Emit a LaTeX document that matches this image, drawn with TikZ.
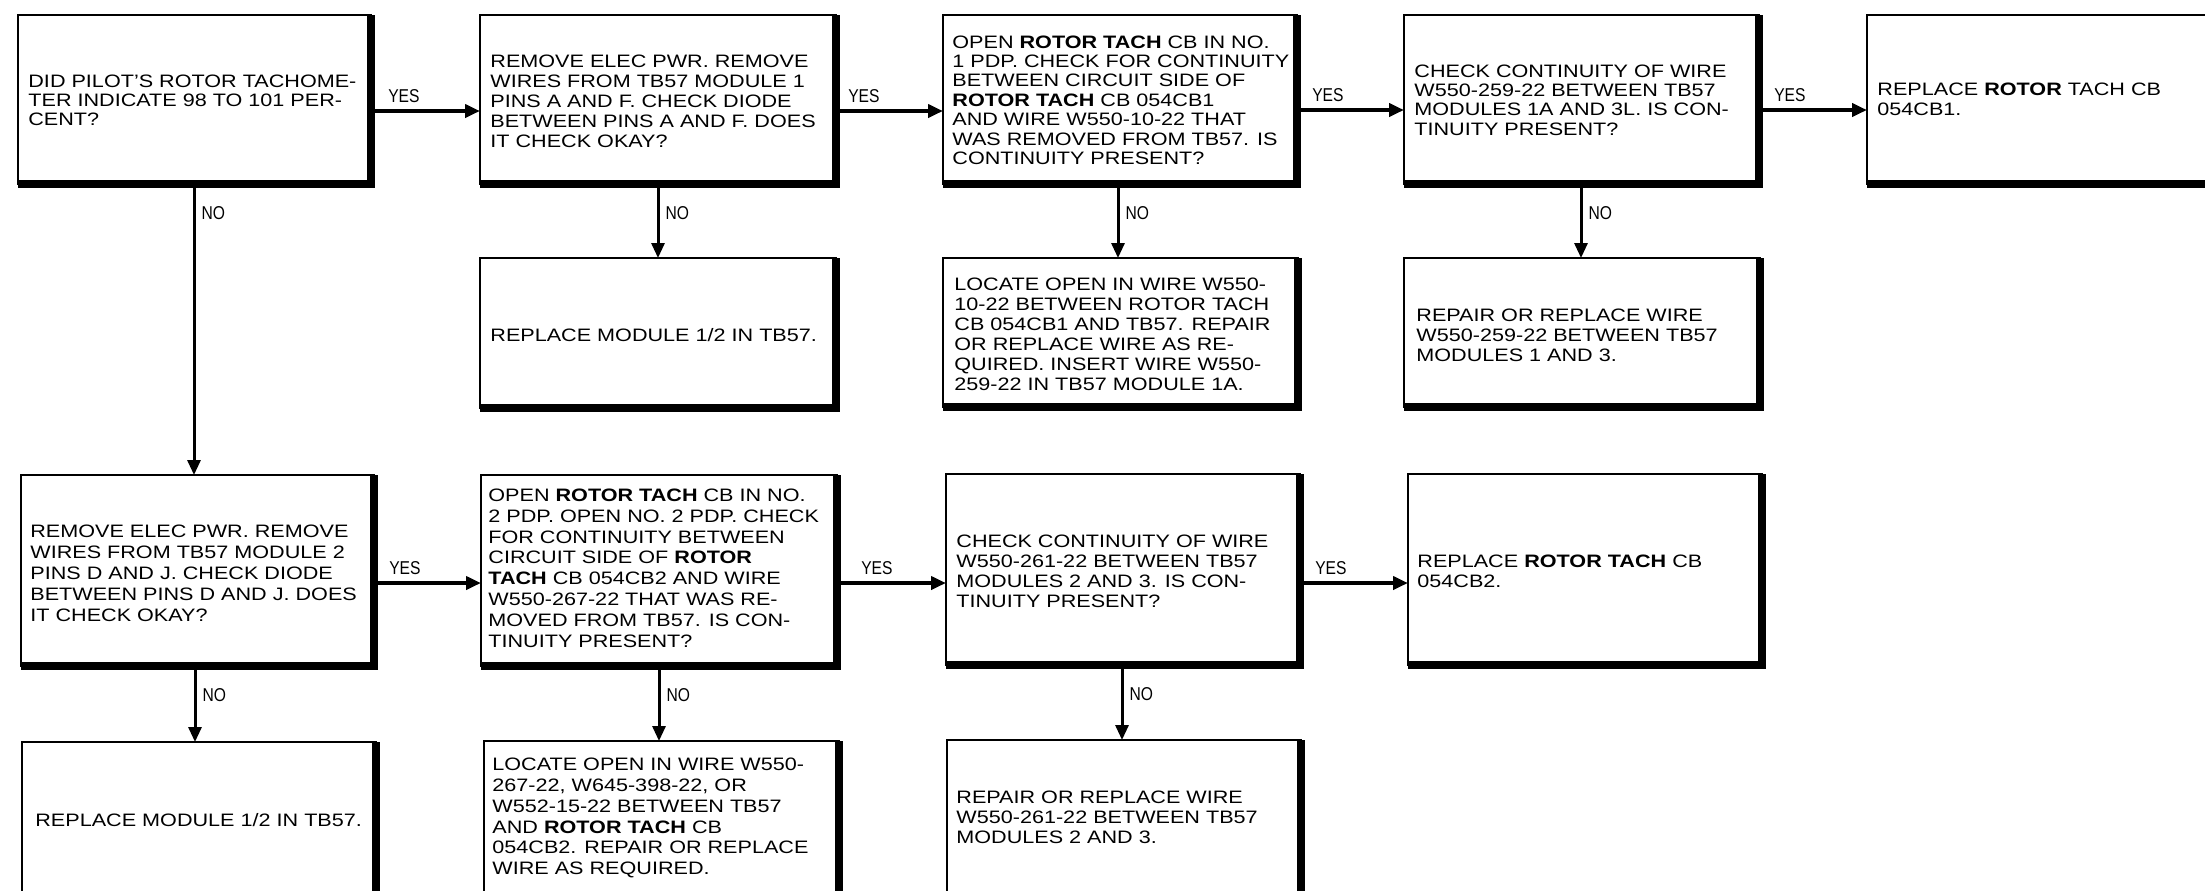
\documentclass[tikz,border=0pt]{standalone}
\usepackage{fontspec}
\setmainfont[FakeStretch=1.2]{Liberation Sans}
\newfontfamily\labfont[FakeStretch=0.84]{Liberation Sans}
\usetikzlibrary{arrows.meta}
\tikzset{
  box/.style={draw, line width=1.4pt, rectangle, inner sep=0pt, outer sep=0pt},
  shadeline/.style={line width=4pt, line cap=butt, line join=miter},
  txt/.style={anchor=west, align=left, inner sep=0pt, font=\fontsize{9}{10}\selectfont},
  yesarrow/.style={-{Triangle[length=7.5pt,width=6.5pt]}, line width=2.3pt},
  noarrow/.style={-{Triangle[length=7.5pt,width=6.5pt]}, line width=1.5pt},
  yeslab/.style={font=\labfont\fontsize{9.3}{11}\selectfont, inner sep=0pt, anchor=base west},
  nolab/.style={font=\labfont\fontsize{9.3}{11}\selectfont, inner sep=0pt, anchor=north west},
}
\newcommand\fcbox[5]{%
  \node[box, minimum width={(#4-#2)*0.5pt}, minimum height={(#5-#3)*0.5pt}] (#1) at ({(#2+#4)/2},{(#3+#5)/2}) {};
  \draw[shadeline] (#1.north east) -- (#1.south east) -- (#1.south west);
}
\begin{document}
\begin{tikzpicture}[x=0.5pt,y=-0.5pt]
\useasboundingbox (0,0) rectangle (2205,890);
\clip (0,0) rectangle (2205,890);
\fill[white] (0,0) rectangle (2205,890);

% row 1
\fcbox{b1}{18}{15}{371}{184}
\fcbox{b2}{480}{15}{836}{184}
\fcbox{b3}{943}{15}{1297}{184}
\fcbox{b4}{1404}{15}{1759}{184}
\fcbox{b5}{1867}{15}{2260}{184}
% row 2
\fcbox{r2}{480}{258}{836}{408}
\fcbox{r3}{943}{258}{1298}{407}
\fcbox{r4}{1404}{258}{1760}{407}
% row 3
\fcbox{c1}{21}{475}{374}{666}
\fcbox{c2}{481}{475}{837}{666}
\fcbox{c3}{946}{474}{1300}{665}
\fcbox{c4}{1408}{474}{1762}{665}
% row 4
\fcbox{d1}{22}{742}{376}{910}
\fcbox{d2}{484}{741}{839}{910}
\fcbox{d3}{947}{740}{1301}{910}

% texts
\node[txt, font=\fontsize{9}{9.4}\selectfont] (b1t) at (28,100) {DID PILOT'S ROTOR TACHOME-\\TER INDICATE 98 TO 101 PER-\\CENT?};
\node[txt] (b2t) at (490,101) {REMOVE ELEC PWR. REMOVE\\WIRES FROM TB57 MODULE 1\\PINS A AND F. CHECK DIODE\\BETWEEN PINS A AND F. DOES\\IT CHECK OKAY?};
\node[txt, font=\fontsize{9}{9.7}\selectfont] (b3t) at (952,100) {OPEN \textbf{ROTOR TACH} CB IN NO.\\1 PDP. CHECK FOR CONTINUITY\\BETWEEN CIRCUIT SIDE OF\\\textbf{ROTOR TACH} CB 054CB1\\AND WIRE W550-10-22 THAT\\WAS REMOVED FROM TB57. IS\\CONTINUITY PRESENT?};
\node[txt, font=\fontsize{9}{9.6}\selectfont] (b4t) at (1414,100) {CHECK CONTINUITY OF WIRE\\W550-259-22 BETWEEN TB57\\MODULES 1A AND 3L. IS CON-\\TINUITY PRESENT?};
\node[txt] (b5t) at (1877,99) {REPLACE \textbf{ROTOR} TACH CB\\054CB1.};
\node[txt] (r2t) at (490,335) {REPLACE MODULE 1/2 IN TB57.};
\node[txt] (r3t) at (954,334) {LOCATE OPEN IN WIRE W550-\\10-22 BETWEEN ROTOR TACH\\CB 054CB1 AND TB57. REPAIR\\OR REPLACE WIRE AS RE-\\QUIRED. INSERT WIRE W550-\\259-22 IN TB57 MODULE 1A.};
\node[txt] (r4t) at (1416,335) {REPAIR OR REPLACE WIRE\\W550-259-22 BETWEEN TB57\\MODULES 1 AND 3.};
\node[txt, font=\fontsize{9}{10.5}\selectfont] (c1t) at (30,573) {REMOVE ELEC PWR. REMOVE\\WIRES FROM TB57 MODULE 2\\PINS D AND J. CHECK DIODE\\BETWEEN PINS D AND J. DOES\\IT CHECK OKAY?};
\node[txt, font=\fontsize{9}{10.4}\selectfont] (c2t) at (488,568) {OPEN \textbf{ROTOR TACH} CB IN NO.\\2 PDP. OPEN NO. 2 PDP. CHECK\\FOR CONTINUITY BETWEEN\\CIRCUIT SIDE OF \textbf{ROTOR}\\\textbf{TACH} CB 054CB2 AND WIRE\\W550-267-22 THAT WAS RE-\\MOVED FROM TB57. IS CON-\\TINUITY PRESENT?};
\node[txt] (c3t) at (956,571) {CHECK CONTINUITY OF WIRE\\W550-261-22 BETWEEN TB57\\MODULES 2 AND 3. IS CON-\\TINUITY PRESENT?};
\node[txt] (c4t) at (1417,571) {REPLACE \textbf{ROTOR TACH} CB\\054CB2.};
\node[txt] (d1t) at (35,820) {REPLACE MODULE 1/2 IN TB57.};
\node[txt, font=\fontsize{9}{10.4}\selectfont] (d2t) at (492,818) {LOCATE OPEN IN WIRE W550-\\267-22, W645-398-22, OR\\W552-15-22 BETWEEN TB57\\AND \textbf{ROTOR TACH} CB\\054CB2. REPAIR OR REPLACE\\WIRE AS REQUIRED.};
\node[txt] (d3t) at (956,817) {REPAIR OR REPLACE WIRE\\W550-261-22 BETWEEN TB57\\MODULES 2 AND 3.};

% connector levels
\coordinate (ya) at (0,111);
\coordinate (yb) at (0,110);
\coordinate (yc) at (0,583);
\coordinate (nxa) at (194,0);
\coordinate (nxb) at (658,0);
\coordinate (nxc) at (1118,0);
\coordinate (nxd) at (1581,0);
\coordinate (nxe) at (195,0);
\coordinate (nxf) at (659,0);
\coordinate (nxg) at (1122,0);

% YES arrows
\draw[yesarrow] (b1.east |- ya) -- (b2.west |- ya) node[yeslab, pos=0, xshift=7.5pt, yshift=4.5pt] {YES};
\draw[yesarrow] (b2.east |- ya) -- (b3.west |- ya) node[yeslab, pos=0, xshift=5pt, yshift=4.5pt] {YES};
\draw[yesarrow] (b3.east |- yb) -- (b4.west |- yb) node[yeslab, pos=0, xshift=6.5pt, yshift=4.5pt] {YES};
\draw[yesarrow] (b4.east |- yb) -- (b5.west |- yb) node[yeslab, pos=0, xshift=6.5pt, yshift=4.5pt] {YES};
\draw[yesarrow] (c1.east |- yc) -- (c2.west |- yc) node[yeslab, pos=0, xshift=6.5pt, yshift=4.5pt] {YES};
\draw[yesarrow] (c2.east |- yc) -- (c3.west |- yc) node[yeslab, pos=0, xshift=11pt, yshift=4.5pt] {YES};
\draw[yesarrow] (c3.east |- yc) -- (c4.west |- yc) node[yeslab, pos=0, xshift=6.5pt, yshift=4.5pt] {YES};

% NO arrows
\draw[noarrow] (b1.south -| nxa) -- (c1.north -| nxa) node[nolab, pos=0, xshift=3pt, yshift=-10.5pt] {NO};
\draw[noarrow] (b2.south -| nxb) -- (r2.north -| nxb) node[nolab, pos=0, xshift=3pt, yshift=-10.5pt] {NO};
\draw[noarrow] (b3.south -| nxc) -- (r3.north -| nxc) node[nolab, pos=0, xshift=3pt, yshift=-10.5pt] {NO};
\draw[noarrow] (b4.south -| nxd) -- (r4.north -| nxd) node[nolab, pos=0, xshift=3pt, yshift=-10.5pt] {NO};
\draw[noarrow] (c1.south -| nxe) -- (d1.north -| nxe) node[nolab, pos=0, xshift=3pt, yshift=-10.5pt] {NO};
\draw[noarrow] (c2.south -| nxf) -- (d2.north -| nxf) node[nolab, pos=0, xshift=3pt, yshift=-10.5pt] {NO};
\draw[noarrow] (c3.south -| nxg) -- (d3.north -| nxg) node[nolab, pos=0, xshift=3pt, yshift=-10.5pt] {NO};
\end{tikzpicture}
\end{document}
